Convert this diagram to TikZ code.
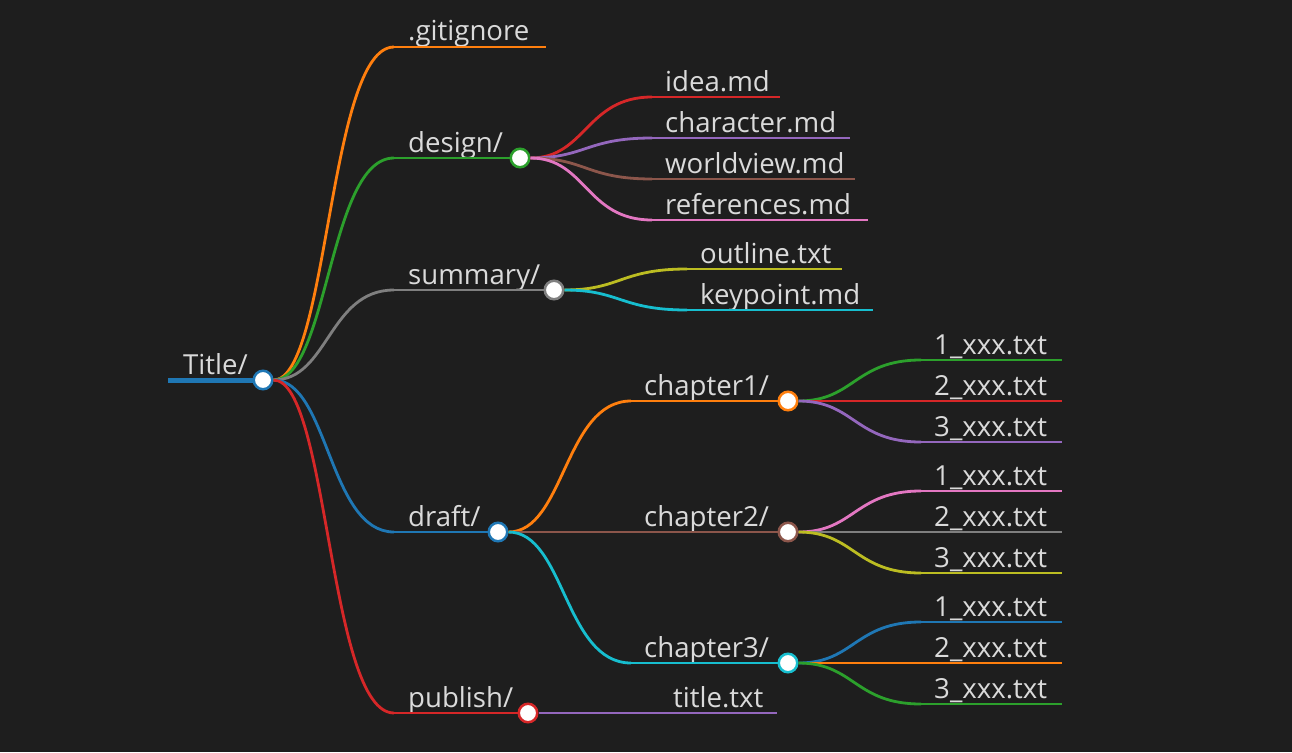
\documentclass[tikz,border=0pt]{standalone}
\usepackage{fontspec}
\setmainfont{Open Sans}
\usepackage{tikz}
\usetikzlibrary{calc}
\definecolor{bg}{HTML}{1E1E1E}
\definecolor{txt}{HTML}{DADADA}
\definecolor{mblue}{HTML}{1F77B4}
\definecolor{morange}{HTML}{FF7F0E}
\definecolor{mgreen}{HTML}{2CA02C}
\definecolor{mred}{HTML}{D62728}
\definecolor{mpurple}{HTML}{9467BD}
\definecolor{mbrown}{HTML}{8C564B}
\definecolor{mpink}{HTML}{E377C2}
\definecolor{mgray}{HTML}{7F7F7F}
\definecolor{molive}{HTML}{BCBD22}
\definecolor{mcyan}{HTML}{17BECF}

% horizontal S-shaped link from #1 to #2
\newcommand{\branch}[3]{%
  \path ($(#1)!.5!(#2)$) coordinate (mid);
  \draw[link, #3] (#1) .. controls (mid |- #1) and (mid |- #2) .. (#2);}

\begin{document}
\begin{tikzpicture}[
    x=1pt, y=-1pt,
    link/.style={line width=2.8pt},
    dot/.style={circle, draw=#1, fill=white, line width=2.5pt, minimum size=18.5pt, inner sep=0pt},
    lbl/.style={anchor=base west, inner sep=0pt, text=txt, font=\fontsize{27.6}{32}\selectfont}
]
    \useasboundingbox (0,0) rectangle (1292,752);
    \fill[bg] (0,0) rectangle (1292,752);

    % Root
    \coordinate (title-s) at (168,380);
    \node[dot=mblue] (title) at (263,380) {};
    \node[lbl] (title-t) at (183,374) {Title/};
    \draw[mblue, line width=5pt] (title-s) -- (title);

    % Folder circles
    \node[dot=mgreen] (design) at (520,158) {};
    \node[dot=mgray] (summary) at (554,290) {};
    \node[dot=mblue] (draft) at (498,532) {};
    \node[dot=mred] (publish) at (528,713) {};
    \node[dot=morange] (ch1) at (788,401) {};
    \node[dot=mbrown] (ch2) at (788,532) {};
    \node[dot=mcyan] (ch3) at (788,663) {};

    % First level
    \coordinate (gitignore) at (394,47);
    \coordinate (gitignore-e) at (546,47);
    \coordinate (design-l) at (394,158);
    \coordinate (summary-l) at (394,290);
    \coordinate (draft-l) at (394,532);
    \coordinate (publish-l) at (394,713);
    \node[lbl] (gitignore-t) at (408,41) {.gitignore};
    \node[lbl] (design-t) at (408,152) {design/};
    \node[lbl] (summary-t) at (408,284) {summary/};
    \node[lbl] (draft-t) at (408,526) {draft/};
    \node[lbl] (publish-t) at (408,707) {publish/};
    \branch{title}{gitignore}{morange}
    \branch{title}{design-l}{mgreen}
    \branch{title}{summary-l}{mgray}
    \branch{title}{draft-l}{mblue}
    \branch{title}{publish-l}{mred}
    \draw[link, morange] (gitignore) -- (gitignore-e);
    \draw[link, mgreen] (design-l) -- (design);
    \draw[link, mgray] (summary-l) -- (summary);
    \draw[link, mblue] (draft-l) -- (draft);
    \draw[link, mred] (publish-l) -- (publish);

    % design/
    \coordinate (idea) at (652,97);
    \coordinate (idea-e) at (780,97);
    \coordinate (character) at (652,138);
    \coordinate (character-e) at (850,138);
    \coordinate (worldview) at (652,179);
    \coordinate (worldview-e) at (855,179);
    \coordinate (references) at (652,220);
    \coordinate (references-e) at (868,220);
    \node[lbl] (idea-t) at (665,91) {idea.md};
    \node[lbl] (character-t) at (665,132) {character.md};
    \node[lbl] (worldview-t) at (665,173) {worldview.md};
    \node[lbl] (references-t) at (665,214) {references.md};
    \branch{design}{idea}{mred}
    \branch{design}{character}{mpurple}
    \branch{design}{worldview}{mbrown}
    \branch{design}{references}{mpink}
    \draw[link, mred] (idea) -- (idea-e);
    \draw[link, mpurple] (character) -- (character-e);
    \draw[link, mbrown] (worldview) -- (worldview-e);
    \draw[link, mpink] (references) -- (references-e);

    % summary/
    \coordinate (outline) at (687,269);
    \coordinate (outline-e) at (842,269);
    \coordinate (keypoint) at (687,310);
    \coordinate (keypoint-e) at (873,310);
    \node[lbl] (outline-t) at (700,263) {outline.txt};
    \node[lbl] (keypoint-t) at (700,304) {keypoint.md};
    \branch{summary}{outline}{molive}
    \branch{summary}{keypoint}{mcyan}
    \draw[link, molive] (outline) -- (outline-e);
    \draw[link, mcyan] (keypoint) -- (keypoint-e);

    % draft/
    \coordinate (ch1-l) at (631,401);
    \coordinate (ch2-l) at (631,532);
    \coordinate (ch3-l) at (631,663);
    \node[lbl] (ch1-t) at (644,395) {chapter1/};
    \node[lbl] (ch2-t) at (644,526) {chapter2/};
    \node[lbl] (ch3-t) at (644,657) {chapter3/};
    \branch{draft}{ch1-l}{morange}
    \branch{draft}{ch2-l}{mbrown}
    \branch{draft}{ch3-l}{mcyan}
    \draw[link, morange] (ch1-l) -- (ch1);
    \draw[link, mbrown] (ch2-l) -- (ch2);
    \draw[link, mcyan] (ch3-l) -- (ch3);

    % chapter1/
    \coordinate (c1a) at (921,360);
    \coordinate (c1a-e) at (1062,360);
    \coordinate (c1b) at (921,401);
    \coordinate (c1b-e) at (1062,401);
    \coordinate (c1c) at (921,442);
    \coordinate (c1c-e) at (1062,442);
    \node[lbl] (c1a-t) at (934,354) {1\_xxx.txt};
    \node[lbl] (c1b-t) at (934,395) {2\_xxx.txt};
    \node[lbl] (c1c-t) at (934,436) {3\_xxx.txt};
    \branch{ch1}{c1a}{mgreen}
    \branch{ch1}{c1b}{mred}
    \branch{ch1}{c1c}{mpurple}
    \draw[link, mgreen] (c1a) -- (c1a-e);
    \draw[link, mred] (c1b) -- (c1b-e);
    \draw[link, mpurple] (c1c) -- (c1c-e);

    % chapter2/
    \coordinate (c2a) at (921,491);
    \coordinate (c2a-e) at (1062,491);
    \coordinate (c2b) at (921,532);
    \coordinate (c2b-e) at (1062,532);
    \coordinate (c2c) at (921,573);
    \coordinate (c2c-e) at (1062,573);
    \node[lbl] (c2a-t) at (934,485) {1\_xxx.txt};
    \node[lbl] (c2b-t) at (934,526) {2\_xxx.txt};
    \node[lbl] (c2c-t) at (934,567) {3\_xxx.txt};
    \branch{ch2}{c2a}{mpink}
    \branch{ch2}{c2b}{mgray}
    \branch{ch2}{c2c}{molive}
    \draw[link, mpink] (c2a) -- (c2a-e);
    \draw[link, mgray] (c2b) -- (c2b-e);
    \draw[link, molive] (c2c) -- (c2c-e);

    % chapter3/
    \coordinate (c3a) at (921,622);
    \coordinate (c3a-e) at (1062,622);
    \coordinate (c3b) at (921,663);
    \coordinate (c3b-e) at (1062,663);
    \coordinate (c3c) at (921,704);
    \coordinate (c3c-e) at (1062,704);
    \node[lbl] (c3a-t) at (934,616) {1\_xxx.txt};
    \node[lbl] (c3b-t) at (934,657) {2\_xxx.txt};
    \node[lbl] (c3c-t) at (934,698) {3\_xxx.txt};
    \branch{ch3}{c3a}{mblue}
    \branch{ch3}{c3b}{morange}
    \branch{ch3}{c3c}{mgreen}
    \draw[link, mblue] (c3a) -- (c3a-e);
    \draw[link, morange] (c3b) -- (c3b-e);
    \draw[link, mgreen] (c3c) -- (c3c-e);

    % publish/
    \coordinate (titletxt) at (660,713);
    \coordinate (titletxt-e) at (777,713);
    \node[lbl] (titletxt-t) at (673,707) {title.txt};
    \branch{publish}{titletxt}{mpurple}
    \draw[link, mpurple] (titletxt) -- (titletxt-e);
\end{tikzpicture}
\end{document}
